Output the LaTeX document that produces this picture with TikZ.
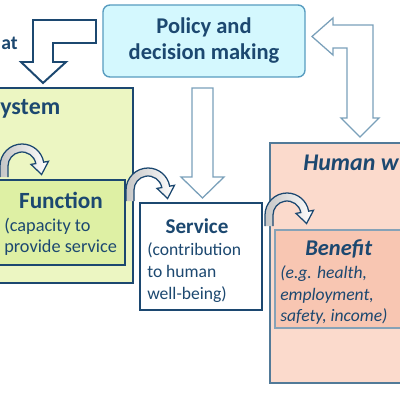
\documentclass[tikz,border=0pt]{standalone}
\usepackage{fontspec}
\setmainfont{Carlito}
\usetikzlibrary{arrows.meta, positioning, calc}

\definecolor{navy}{RGB}{28,72,112}
\definecolor{ecofill}{RGB}{236,246,194}
\definecolor{funcfill}{RGB}{222,240,164}
\definecolor{polfill}{RGB}{212,248,254}
\definecolor{poledge}{RGB}{88,156,192}
\definecolor{steel}{RGB}{122,160,186}
\definecolor{humfill}{RGB}{251,218,204}
\definecolor{benfill}{RGB}{248,198,178}
\definecolor{humedge}{RGB}{82,122,152}

\begin{document}
\begin{tikzpicture}[
        x=0.025cm, y=-0.025cm,
        font=\fontsize{12.5}{15.6}\selectfont,
        box/.style={draw=navy, line width=1.4pt, inner sep=0pt},
        policybox/.style={draw=poledge, fill=polfill, line width=1pt, rounded corners=5pt,
            minimum width=5.05cm, minimum height=1.8cm, align=center, text=navy,
            font=\bfseries\fontsize{16}{18.5}\selectfont},
        humanbox/.style={draw=humedge, line width=1pt, inner sep=0pt},
        title/.style={text=navy, inner sep=0pt, font=\bfseries\fontsize{16}{18}\selectfont},
        body/.style={text=navy, inner sep=0pt, align=left, anchor=north west},
        blockarrow/.style={draw=steel, fill=white, line width=0.9pt, line join=miter},
        bendline/.style={draw=navy, line width=0.9pt, line join=miter, left color=gray!45, right color=white},
        bendarrow/.pic={
            \draw[bendline] (-1,8) -- (-1,-3) arc[start angle=180, end angle=350, radius=22]
                -- (47.5,-7.7) -- (40.6,5.5) -- (30,-4.6) -- (34.79,-5.43)
                arc[start angle=350, end angle=180, radius=14] -- (7,8);
        }
    ]

    \fill[white] (0,0) rectangle (400,400);
    \useasboundingbox (0,0) rectangle (400,400);

    % ---- policy and decision making ----
    \node[policybox] (policy) at (204,41) {Policy and\\decision making};

    % ---- block arrows ----
    \draw[blockarrow, draw=navy, line width=1.4pt] (33,20) -- (96,20) -- (96,43) -- (53,43) -- (53,62)
        -- (66,62) -- (43,83) -- (21,62) -- (33,62) -- cycle;
    \draw[blockarrow] (192,88) -- (213,88) -- (213,177) -- (224,177) -- (202.5,198) -- (181,177) -- (192,177) -- cycle;
    \draw[blockarrow] (312,36.5) -- (333,18) -- (333,25) -- (373,25) -- (373,118) -- (379,118) -- (360,137)
        -- (341,118) -- (347,118) -- (347,48) -- (333,48) -- (333,55) -- cycle;
    \node[title, anchor=base west, font=\bfseries\fontsize{14}{16}\selectfont] (mgmt) at (1,50) {at};

    % ---- ecosystem ----
    \node[box, fill=ecofill, minimum width=3.45cm, minimum height=4.875cm] (eco) at (64,185.5) {};
    \node[title, anchor=base west, font=\bfseries\fontsize{17}{19}\selectfont] (ecotxt) at (0,115) {ystem};

    % ---- function ----
    \node[box, fill=funcfill, minimum width=3.25cm, minimum height=2.125cm] (func) at (60,222.5) {};
    \node[title, anchor=base, font=\bfseries\fontsize{16.5}{18}\selectfont] (functitle) at (61,208) {Function};
    \node[body, font=\fontsize{13}{14.5}\selectfont] (funcbody) at (4,218) {(capacity to\\provide service};

    % ---- service ----
    \node[box, fill=white, minimum width=3.05cm, minimum height=2.675cm] (serv) at (201,256.5) {};
    \node[title, anchor=base, font=\bfseries\fontsize{15}{17}\selectfont] (servtitle) at (197,233) {Service};
    \node[body] (servbody) at (147,242) {(contribution\\to human\\well-being)};

    % ---- human well-being ----
    \node[humanbox, fill=humfill, minimum width=3.5cm, minimum height=6cm] (human) at (340,263) {};
    \node[title, anchor=base west, font=\bfseries\itshape\fontsize{17}{19}\selectfont] (humantxt) at (303,170) {Human w};

    % ---- benefit ----
    \node[humanbox, draw=humedge!70, line width=0.8pt, fill=benfill, minimum width=3.375cm, minimum height=2.45cm] (benefit) at (342.5,279) {};
    \node[title, anchor=base west, font=\bfseries\itshape\fontsize{16}{18}\selectfont] (bentitle) at (305,255) {Benefit};
    \node[body, font=\itshape\fontsize{12.5}{15.6}\selectfont] (benbody) at (280,265) {(e.g. health,\\employment,\\safety, income)};

    % ---- bending arrows ----
    \pic (bend1) at (1,169) {bendarrow};
    \pic (bend2) at (127,193) {bendarrow};
    \pic (bend3) at (266,218) {bendarrow};

\end{tikzpicture}
\end{document}
